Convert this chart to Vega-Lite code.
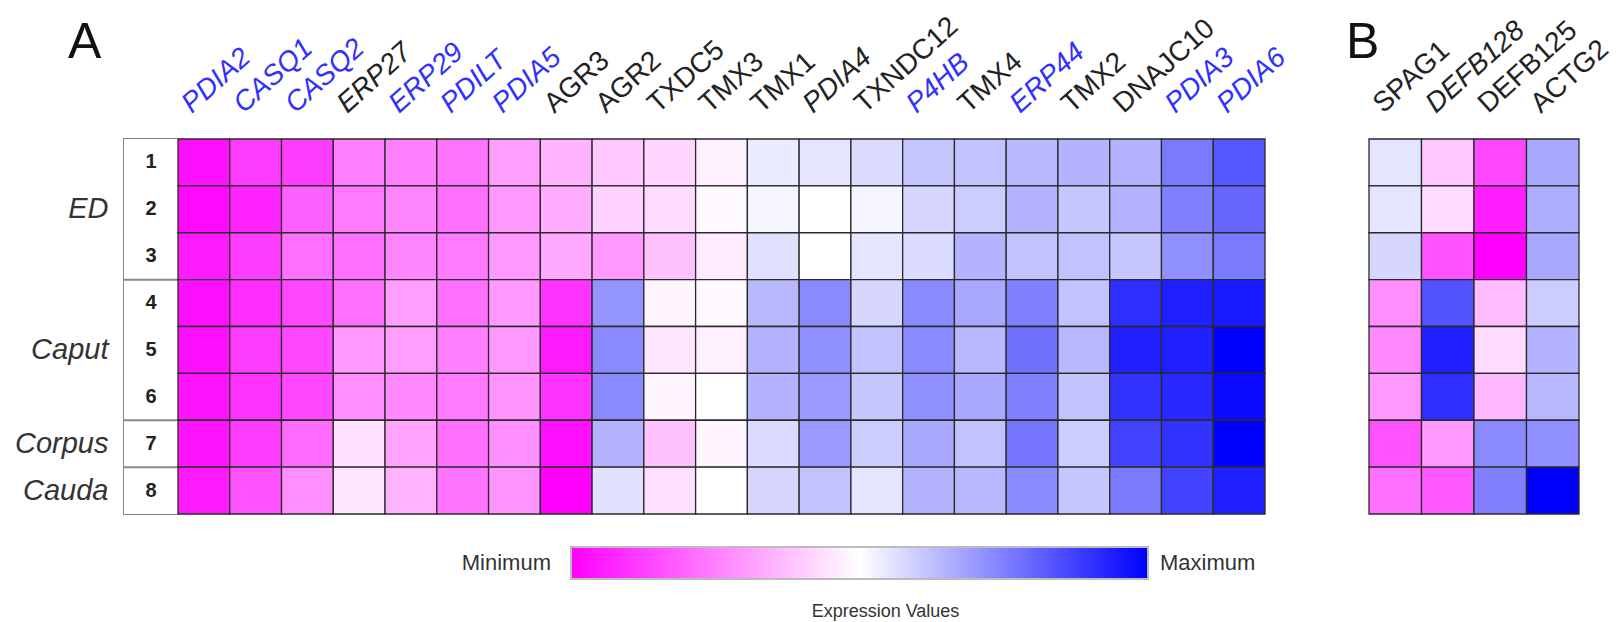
{
"$schema": "https://vega.github.io/schema/vega-lite/v6.json",
"background": "white",
"padding": {"left": 13, "top": 11, "right": 6, "bottom": 0},
"config": {"font": "Liberation Sans", "view": {"stroke": null}},
"datasets": {
"rows": [
{"row":"1","sep":false},{"row":"2","sep":false},{"row":"3","sep":false},{"row":"4","sep":true},
{"row":"5","sep":false},{"row":"6","sep":false},{"row":"7","sep":true},{"row":"8","sep":true}
],
"a": [
{"gene":"PDIA2","row":"1","v":0.03},{"gene":"PDIA2","row":"2","v":0.02},{"gene":"PDIA2","row":"3","v":0.05},{"gene":"PDIA2","row":"4","v":0.03},{"gene":"PDIA2","row":"5","v":0.03},{"gene":"PDIA2","row":"6","v":0.04},{"gene":"PDIA2","row":"7","v":0.04},{"gene":"PDIA2","row":"8","v":0.05},
{"gene":"CASQ1","row":"1","v":0.12},{"gene":"CASQ1","row":"2","v":0.07},{"gene":"CASQ1","row":"3","v":0.12},{"gene":"CASQ1","row":"4","v":0.09},{"gene":"CASQ1","row":"5","v":0.12},{"gene":"CASQ1","row":"6","v":0.10},{"gene":"CASQ1","row":"7","v":0.12},{"gene":"CASQ1","row":"8","v":0.16},
{"gene":"CASQ2","row":"1","v":0.12},{"gene":"CASQ2","row":"2","v":0.19},{"gene":"CASQ2","row":"3","v":0.22},{"gene":"CASQ2","row":"4","v":0.14},{"gene":"CASQ2","row":"5","v":0.14},{"gene":"CASQ2","row":"6","v":0.14},{"gene":"CASQ2","row":"7","v":0.21},{"gene":"CASQ2","row":"8","v":0.28},
{"gene":"ERP27","row":"1","v":0.25},{"gene":"ERP27","row":"2","v":0.24},{"gene":"ERP27","row":"3","v":0.22},{"gene":"ERP27","row":"4","v":0.22},{"gene":"ERP27","row":"5","v":0.30},{"gene":"ERP27","row":"6","v":0.28},{"gene":"ERP27","row":"7","v":0.44},{"gene":"ERP27","row":"8","v":0.45},
{"gene":"ERP29","row":"1","v":0.25},{"gene":"ERP29","row":"2","v":0.26},{"gene":"ERP29","row":"3","v":0.26},{"gene":"ERP29","row":"4","v":0.31},{"gene":"ERP29","row":"5","v":0.31},{"gene":"ERP29","row":"6","v":0.27},{"gene":"ERP29","row":"7","v":0.32},{"gene":"ERP29","row":"8","v":0.35},
{"gene":"PDILT","row":"1","v":0.23},{"gene":"PDILT","row":"2","v":0.22},{"gene":"PDILT","row":"3","v":0.24},{"gene":"PDILT","row":"4","v":0.22},{"gene":"PDILT","row":"5","v":0.25},{"gene":"PDILT","row":"6","v":0.24},{"gene":"PDILT","row":"7","v":0.22},{"gene":"PDILT","row":"8","v":0.23},
{"gene":"PDIA5","row":"1","v":0.31},{"gene":"PDIA5","row":"2","v":0.30},{"gene":"PDIA5","row":"3","v":0.30},{"gene":"PDIA5","row":"4","v":0.30},{"gene":"PDIA5","row":"5","v":0.30},{"gene":"PDIA5","row":"6","v":0.29},{"gene":"PDIA5","row":"7","v":0.28},{"gene":"PDIA5","row":"8","v":0.29},
{"gene":"AGR3","row":"1","v":0.35},{"gene":"AGR3","row":"2","v":0.34},{"gene":"AGR3","row":"3","v":0.33},{"gene":"AGR3","row":"4","v":0.10},{"gene":"AGR3","row":"5","v":0.05},{"gene":"AGR3","row":"6","v":0.10},{"gene":"AGR3","row":"7","v":0.03},{"gene":"AGR3","row":"8","v":0.0},
{"gene":"AGR2","row":"1","v":0.39},{"gene":"AGR2","row":"2","v":0.41},{"gene":"AGR2","row":"3","v":0.30},{"gene":"AGR2","row":"4","v":0.71},{"gene":"AGR2","row":"5","v":0.73},{"gene":"AGR2","row":"6","v":0.73},{"gene":"AGR2","row":"7","v":0.65},{"gene":"AGR2","row":"8","v":0.56},
{"gene":"TXDC5","row":"1","v":0.42},{"gene":"TXDC5","row":"2","v":0.43},{"gene":"TXDC5","row":"3","v":0.38},{"gene":"TXDC5","row":"4","v":0.48},{"gene":"TXDC5","row":"5","v":0.45},{"gene":"TXDC5","row":"6","v":0.48},{"gene":"TXDC5","row":"7","v":0.38},{"gene":"TXDC5","row":"8","v":0.44},
{"gene":"TMX3","row":"1","v":0.47},{"gene":"TMX3","row":"2","v":0.49},{"gene":"TMX3","row":"3","v":0.46},{"gene":"TMX3","row":"4","v":0.49},{"gene":"TMX3","row":"5","v":0.47},{"gene":"TMX3","row":"6","v":0.50},{"gene":"TMX3","row":"7","v":0.48},{"gene":"TMX3","row":"8","v":0.50},
{"gene":"TMX1","row":"1","v":0.54},{"gene":"TMX1","row":"2","v":0.52},{"gene":"TMX1","row":"3","v":0.56},{"gene":"TMX1","row":"4","v":0.64},{"gene":"TMX1","row":"5","v":0.65},{"gene":"TMX1","row":"6","v":0.65},{"gene":"TMX1","row":"7","v":0.57},{"gene":"TMX1","row":"8","v":0.58},
{"gene":"PDIA4","row":"1","v":0.55},{"gene":"PDIA4","row":"2","v":0.50},{"gene":"PDIA4","row":"3","v":0.50},{"gene":"PDIA4","row":"4","v":0.73},{"gene":"PDIA4","row":"5","v":0.72},{"gene":"PDIA4","row":"6","v":0.70},{"gene":"PDIA4","row":"7","v":0.70},{"gene":"PDIA4","row":"8","v":0.62},
{"gene":"TXNDC12","row":"1","v":0.57},{"gene":"TXNDC12","row":"2","v":0.52},{"gene":"TXNDC12","row":"3","v":0.55},{"gene":"TXNDC12","row":"4","v":0.58},{"gene":"TXNDC12","row":"5","v":0.62},{"gene":"TXNDC12","row":"6","v":0.61},{"gene":"TXNDC12","row":"7","v":0.60},{"gene":"TXNDC12","row":"8","v":0.55},
{"gene":"P4HB","row":"1","v":0.61},{"gene":"P4HB","row":"2","v":0.58},{"gene":"P4HB","row":"3","v":0.57},{"gene":"P4HB","row":"4","v":0.73},{"gene":"P4HB","row":"5","v":0.73},{"gene":"P4HB","row":"6","v":0.72},{"gene":"P4HB","row":"7","v":0.67},{"gene":"P4HB","row":"8","v":0.65},
{"gene":"TMX4","row":"1","v":0.62},{"gene":"TMX4","row":"2","v":0.60},{"gene":"TMX4","row":"3","v":0.65},{"gene":"TMX4","row":"4","v":0.67},{"gene":"TMX4","row":"5","v":0.64},{"gene":"TMX4","row":"6","v":0.67},{"gene":"TMX4","row":"7","v":0.62},{"gene":"TMX4","row":"8","v":0.64},
{"gene":"ERP44","row":"1","v":0.64},{"gene":"ERP44","row":"2","v":0.65},{"gene":"ERP44","row":"3","v":0.62},{"gene":"ERP44","row":"4","v":0.75},{"gene":"ERP44","row":"5","v":0.78},{"gene":"ERP44","row":"6","v":0.75},{"gene":"ERP44","row":"7","v":0.77},{"gene":"ERP44","row":"8","v":0.73},
{"gene":"TMX2","row":"1","v":0.65},{"gene":"TMX2","row":"2","v":0.61},{"gene":"TMX2","row":"3","v":0.62},{"gene":"TMX2","row":"4","v":0.62},{"gene":"TMX2","row":"5","v":0.64},{"gene":"TMX2","row":"6","v":0.62},{"gene":"TMX2","row":"7","v":0.60},{"gene":"TMX2","row":"8","v":0.61},
{"gene":"DNAJC10","row":"1","v":0.65},{"gene":"DNAJC10","row":"2","v":0.65},{"gene":"DNAJC10","row":"3","v":0.61},{"gene":"DNAJC10","row":"4","v":0.91},{"gene":"DNAJC10","row":"5","v":0.94},{"gene":"DNAJC10","row":"6","v":0.90},{"gene":"DNAJC10","row":"7","v":0.87},{"gene":"DNAJC10","row":"8","v":0.76},
{"gene":"PDIA3","row":"1","v":0.76},{"gene":"PDIA3","row":"2","v":0.75},{"gene":"PDIA3","row":"3","v":0.72},{"gene":"PDIA3","row":"4","v":0.94},{"gene":"PDIA3","row":"5","v":0.94},{"gene":"PDIA3","row":"6","v":0.92},{"gene":"PDIA3","row":"7","v":0.90},{"gene":"PDIA3","row":"8","v":0.87},
{"gene":"PDIA6","row":"1","v":0.83},{"gene":"PDIA6","row":"2","v":0.80},{"gene":"PDIA6","row":"3","v":0.76},{"gene":"PDIA6","row":"4","v":0.95},{"gene":"PDIA6","row":"5","v":1.0},{"gene":"PDIA6","row":"6","v":0.98},{"gene":"PDIA6","row":"7","v":1.0},{"gene":"PDIA6","row":"8","v":0.94}
],
"b": [
{"gene":"SPAG1","row":"1","v":0.55},{"gene":"SPAG1","row":"2","v":0.55},{"gene":"SPAG1","row":"3","v":0.58},{"gene":"SPAG1","row":"4","v":0.28},{"gene":"SPAG1","row":"5","v":0.27},{"gene":"SPAG1","row":"6","v":0.30},{"gene":"SPAG1","row":"7","v":0.16},{"gene":"SPAG1","row":"8","v":0.22},
{"gene":"DEFB128","row":"1","v":0.39},{"gene":"DEFB128","row":"2","v":0.43},{"gene":"DEFB128","row":"3","v":0.16},{"gene":"DEFB128","row":"4","v":0.84},{"gene":"DEFB128","row":"5","v":0.94},{"gene":"DEFB128","row":"6","v":0.91},{"gene":"DEFB128","row":"7","v":0.30},{"gene":"DEFB128","row":"8","v":0.17},
{"gene":"DEFB125","row":"1","v":0.14},{"gene":"DEFB125","row":"2","v":0.06},{"gene":"DEFB125","row":"3","v":0.0},{"gene":"DEFB125","row":"4","v":0.37},{"gene":"DEFB125","row":"5","v":0.43},{"gene":"DEFB125","row":"6","v":0.36},{"gene":"DEFB125","row":"7","v":0.73},{"gene":"DEFB125","row":"8","v":0.75},
{"gene":"ACTG2","row":"1","v":0.67},{"gene":"ACTG2","row":"2","v":0.66},{"gene":"ACTG2","row":"3","v":0.67},{"gene":"ACTG2","row":"4","v":0.60},{"gene":"ACTG2","row":"5","v":0.65},{"gene":"ACTG2","row":"6","v":0.64},{"gene":"ACTG2","row":"7","v":0.72},{"gene":"ACTG2","row":"8","v":1.0}
],
"legend": [{"lo": 0, "hi": 1, "mid": 0.5, "minLabel": "Minimum", "maxLabel": "Maximum", "title": "Expression Values"}]
},
"vconcat": [
{
"spacing": 55,
"hconcat": [
{
"spacing": 0,
"bounds": "flush",
"hconcat": [
{
"title": {"text": "A", "anchor": "start", "frame": "group", "fontSize": 50, "fontWeight": "normal", "offset": 71, "dx": -56, "color": "#111"},
"width": 54, "height": 375,
"data": {"name": "rows"},
"view": {"stroke": "#888", "strokeWidth": 2},
"encoding": {
"y": {"field": "row", "type": "nominal", "axis": {"orient": "left", "title": null, "domain": false, "ticks": false, "labelPadding": 16, "labelFontSize": 29, "labelFontStyle": "italic", "labelColor": "#333",
"labelExpr": "datum.value == '2' ? 'ED' : datum.value == '5' ? 'Caput' : datum.value == '7' ? 'Corpus' : datum.value == '8' ? 'Cauda' : ''"}}
},
"layer": [
{"mark": {"type": "rect", "fill": "white"}},
{"mark": {"type": "text", "fontWeight": "bold", "fontSize": 20, "color": "#222"}, "encoding": {"text": {"field": "row"}}},
{"transform": [{"filter": "datum.sep"}], "mark": {"type": "rule", "stroke": "#888", "strokeWidth": 2}, "encoding": {"y": {"field": "row", "type": "nominal", "bandPosition": 0}}}
]
},
{
"width": 1087, "height": 375,
"data": {"name": "a"},
"mark": {"type": "rect", "stroke": "#2a2a2a", "strokeWidth": 1.3},
"encoding": {
"x": {"field": "gene", "type": "nominal",
"sort": ["PDIA2","CASQ1","CASQ2","ERP27","ERP29","PDILT","PDIA5","AGR3","AGR2","TXDC5","TMX3","TMX1","PDIA4","TXNDC12","P4HB","TMX4","ERP44","TMX2","DNAJC10","PDIA3","PDIA6"],
"axis": {"orient": "top", "title": null, "labelAngle": -42, "domain": false, "ticks": false, "labelFontSize": 28, "labelPadding": 21, "labelOffset": -8, "labelOverlap": false,
"labelFontStyle": {"condition": {"test": "indexof(['PDIA2','CASQ1','CASQ2','ERP27','ERP29','PDILT','PDIA5','PDIA4','P4HB','ERP44','PDIA3','PDIA6'], datum.value) >= 0", "value": "italic"}, "value": "normal"},
"labelColor": {"condition": {"test": "indexof(['PDIA2','CASQ1','CASQ2','ERP29','PDILT','PDIA5','P4HB','ERP44','PDIA3','PDIA6'], datum.value) >= 0", "value": "#3030ff"}, "value": "#222222"}}},
"y": {"field": "row", "type": "nominal", "axis": null},
"color": {"field": "v", "type": "quantitative", "scale": {"domain": [0, 0.5, 1], "range": ["#ff00ff", "#ffffff", "#0000ff"], "interpolate": "rgb"}, "legend": null}
}
}
]
},
{
"title": {"text": "B", "anchor": "start", "frame": "group", "fontSize": 50, "fontWeight": "normal", "offset": -52, "dx": -23, "color": "#111"},
"width": 210, "height": 375,
"data": {"name": "b"},
"mark": {"type": "rect", "stroke": "#2a2a2a", "strokeWidth": 1.3},
"encoding": {
"x": {"field": "gene", "type": "nominal", "sort": ["SPAG1","DEFB128","DEFB125","ACTG2"],
"axis": {"orient": "top", "title": null, "labelAngle": -42, "domain": false, "ticks": false, "labelFontSize": 28, "labelPadding": 21, "labelOffset": -8, "labelOverlap": false, "labelColor": "#222222",
"labelFontStyle": {"condition": {"test": "datum.value == 'DEFB128'", "value": "italic"}, "value": "normal"}}},
"y": {"field": "row", "type": "nominal", "axis": null},
"color": {"field": "v", "type": "quantitative", "scale": {"domain": [0, 0.5, 1], "range": ["#ff00ff", "#ffffff", "#0000ff"], "interpolate": "rgb"}, "legend": null}
}
}
]
},
{
"width": 1450, "height": 32,
"data": {"name": "legend"},
"encoding": {},
"layer": [
{"mark": {"type": "rect", "fill": {"gradient": "linear", "stops": [{"offset": 0, "color": "#ff00ff"}, {"offset": 0.5, "color": "#ffffff"}, {"offset": 1, "color": "#0000ff"}]}, "stroke": "#bbbbbb", "strokeWidth": 2},
"encoding": {"x": {"field": "lo", "type": "quantitative", "scale": {"domain": [-0.7747, 1.7383], "nice": false, "zero": false}, "axis": null}, "x2": {"field": "hi"}}},
{"mark": {"type": "text", "align": "right", "dx": -20, "fontSize": 22, "color": "#333"}, "encoding": {"x": {"field": "lo", "type": "quantitative"}, "text": {"field": "minLabel"}}},
{"mark": {"type": "text", "align": "left", "dx": 12, "fontSize": 22, "color": "#333"}, "encoding": {"x": {"field": "hi", "type": "quantitative"}, "text": {"field": "maxLabel"}}},
{"mark": {"type": "text", "align": "center", "baseline": "top", "dy": 40, "dx": 26, "fontSize": 18, "color": "#333"}, "encoding": {"x": {"field": "mid", "type": "quantitative"}, "text": {"field": "title"}}}
]
}
],
"spacing": 31
}
